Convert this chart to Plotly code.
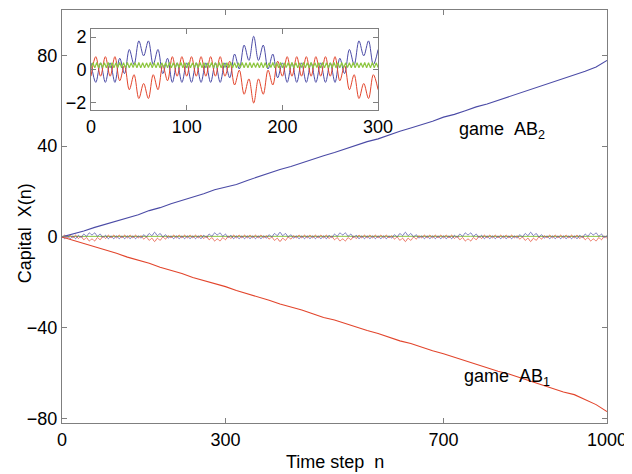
import plotly.graph_objects as go

# ---------------- data ----------------
trend_n = list(range(0, 1001, 20))
game_ab2 = [0.0, 1.2, 2.6, 4.2, 5.6, 7.0, 8.3, 9.8, 11.6, 12.9, 14.6, 16.0, 17.3, 19.0, 20.8,
            22.0, 23.1, 24.9, 26.6, 28.2, 29.7, 31.0, 32.6, 34.5, 35.8, 37.2, 38.9, 40.5, 42.0,
            43.2, 45.0, 46.6, 48.0, 49.4, 51.0, 52.8, 54.0, 55.6, 57.3, 58.6, 60.2, 61.8, 63.4,
            64.7, 66.5, 68.2, 69.8, 71.2, 73.0, 74.9, 77.8]
game_ab1 = [0.0, -1.4, -2.9, -4.3, -5.8, -7.2, -8.9, -10.3, -11.6, -13.4, -14.8, -16.1, -17.9,
            -19.2, -20.3, -21.9, -23.6, -25.0, -26.2, -27.9, -29.6, -30.8, -32.2, -33.9, -35.5,
            -36.6, -38.2, -39.9, -41.2, -42.6, -44.3, -45.8, -47.0, -48.7, -50.2, -51.5, -53.1,
            -54.6, -56.0, -57.6, -59.2, -60.4, -62.0, -63.7, -65.0, -66.6, -68.3, -69.5, -71.8,
            -73.9, -77.0]

band_n = list(range(0, 1001, 5))
band_blue = [
    0.42, -0.78, 0.42, -0.78, 0.42,
    -0.78, 0.70, -0.24, 1.24, 0.31, 1.77, 0.85, 1.77, 0.31, 1.24, -0.24, 0.70, -0.78,
    0.42, -0.78, 0.42, -0.78, 0.42, -0.78, 0.42, -0.78, 0.42, -0.78,
    0.42, -0.50, 0.96, 0.04, 1.51, 0.57, 2.05, 0.57, 1.51, 0.04, 0.96, -0.50, 0.42,
    -0.78, 0.42, -0.78, 0.42, -0.78, 0.42, -0.78, 0.42, -0.78, 0.42,
    -0.78, 0.70, -0.24, 1.24, 0.31, 1.77, 0.85, 1.77, 0.31, 1.24, -0.24, 0.70, -0.78,
    0.42, -0.78, 0.42, -0.78, 0.42, -0.78, 0.42, -0.78, 0.42, -0.78,
    0.42, -0.50, 0.96, 0.04, 1.51, 0.57, 2.05, 0.57, 1.51, 0.04, 0.96, -0.50, 0.42,
    -0.78, 0.42, -0.78, 0.42, -0.78, 0.42, -0.78, 0.42, -0.78, 0.42,
    -0.78, 0.70, -0.24, 1.24, 0.31, 1.77, 0.85, 1.77, 0.31, 1.24, -0.24, 0.70, -0.78,
    0.42, -0.78, 0.42, -0.78, 0.42, -0.78, 0.42, -0.78, 0.42, -0.78,
    0.42, -0.50, 0.96, 0.04, 1.51, 0.57, 2.05, 0.57, 1.51, 0.04, 0.96, -0.50, 0.42,
    -0.78, 0.42, -0.78, 0.42, -0.78, 0.42, -0.78, 0.42, -0.78, 0.42,
    -0.78, 0.70, -0.24, 1.24, 0.31, 1.77, 0.85, 1.77, 0.31, 1.24, -0.24, 0.70, -0.78,
    0.42, -0.78, 0.42, -0.78, 0.42, -0.78, 0.42, -0.78, 0.42, -0.78,
    0.42, -0.50, 0.96, 0.04, 1.51, 0.57, 2.05, 0.57, 1.51, 0.04, 0.96, -0.50, 0.42,
    -0.78, 0.42, -0.78, 0.42, -0.78, 0.42, -0.78, 0.42, -0.78, 0.42,
    -0.78, 0.70, -0.24, 1.24, 0.31, 1.77, 0.85, 1.77, 0.31, 1.24, -0.24, 0.70,
]
band_red = [
    -0.40, 0.80, -0.40, 0.80, -0.40,
    0.80, -0.68, 0.26, -1.23, -0.31, -1.77, -0.85, -1.77, -0.31, -1.23, 0.26, -0.68, 0.80,
    -0.40, 0.80, -0.40, 0.80, -0.40, 0.80, -0.40, 0.80, -0.40, 0.80,
    -0.40, 0.52, -0.94, -0.03, -1.51, -0.57, -2.05, -0.57, -1.51, -0.03, -0.94, 0.52, -0.40,
    0.80, -0.40, 0.80, -0.40, 0.80, -0.40, 0.80, -0.40, 0.80, -0.40,
    0.80, -0.68, 0.26, -1.23, -0.31, -1.77, -0.85, -1.77, -0.31, -1.23, 0.26, -0.68, 0.80,
    -0.40, 0.80, -0.40, 0.80, -0.40, 0.80, -0.40, 0.80, -0.40, 0.80,
    -0.40, 0.52, -0.94, -0.03, -1.51, -0.57, -2.05, -0.57, -1.51, -0.03, -0.94, 0.52, -0.40,
    0.80, -0.40, 0.80, -0.40, 0.80, -0.40, 0.80, -0.40, 0.80, -0.40,
    0.80, -0.68, 0.26, -1.23, -0.31, -1.77, -0.85, -1.77, -0.31, -1.23, 0.26, -0.68, 0.80,
    -0.40, 0.80, -0.40, 0.80, -0.40, 0.80, -0.40, 0.80, -0.40, 0.80,
    -0.40, 0.52, -0.94, -0.03, -1.51, -0.57, -2.05, -0.57, -1.51, -0.03, -0.94, 0.52, -0.40,
    0.80, -0.40, 0.80, -0.40, 0.80, -0.40, 0.80, -0.40, 0.80, -0.40,
    0.80, -0.68, 0.26, -1.23, -0.31, -1.77, -0.85, -1.77, -0.31, -1.23, 0.26, -0.68, 0.80,
    -0.40, 0.80, -0.40, 0.80, -0.40, 0.80, -0.40, 0.80, -0.40, 0.80,
    -0.40, 0.52, -0.94, -0.03, -1.51, -0.57, -2.05, -0.57, -1.51, -0.03, -0.94, 0.52, -0.40,
    0.80, -0.40, 0.80, -0.40, 0.80, -0.40, 0.80, -0.40, 0.80, -0.40,
    0.80, -0.68, 0.26, -1.23, -0.31, -1.77, -0.85, -1.77, -0.31, -1.23, 0.26, -0.68,
]

green_main_n = list(range(0, 1001, 50))
green_main = [0.25, 0.27, 0.24, 0.26, 0.25, 0.27, 0.24, 0.26, 0.25, 0.26, 0.24,
              0.27, 0.25, 0.26, 0.24, 0.27, 0.25, 0.26, 0.24, 0.26, 0.25]

inset_green_n = list(range(0, 301, 2))
inset_green = [
    0.12, 0.43, 0.11, 0.44, 0.12, 0.42, 0.13, 0.43, 0.12, 0.44, 0.11, 0.43, 0.12, 0.42, 0.13, 0.44,
    0.12, 0.43, 0.11, 0.44, 0.12, 0.42, 0.13, 0.43, 0.12, 0.44, 0.11, 0.43, 0.12, 0.42, 0.13, 0.44,
    0.12, 0.43, 0.11, 0.44, 0.12, 0.42, 0.13, 0.43, 0.12, 0.44, 0.11, 0.43, 0.12, 0.42, 0.13, 0.44,
    0.12, 0.43, 0.11, 0.44, 0.12, 0.42, 0.13, 0.43, 0.12, 0.44, 0.11, 0.43, 0.12, 0.42, 0.13, 0.44,
    0.12, 0.43, 0.11, 0.44, 0.12, 0.42, 0.13, 0.43, 0.12, 0.44, 0.11, 0.43, 0.12, 0.42, 0.13, 0.44,
    0.12, 0.43, 0.11, 0.44, 0.12, 0.42, 0.13, 0.43, 0.12, 0.44, 0.11, 0.43, 0.12, 0.42, 0.13, 0.44,
    0.12, 0.43, 0.11, 0.44, 0.12, 0.42, 0.13, 0.43, 0.12, 0.44, 0.11, 0.43, 0.12, 0.42, 0.13, 0.44,
    0.12, 0.43, 0.11, 0.44, 0.12, 0.42, 0.13, 0.43, 0.12, 0.44, 0.11, 0.43, 0.12, 0.42, 0.13, 0.44,
    0.12, 0.43, 0.11, 0.44, 0.12, 0.42, 0.13, 0.43, 0.12, 0.44, 0.11, 0.43, 0.12, 0.42, 0.13, 0.44,
    0.12, 0.43, 0.11, 0.44, 0.12, 0.42, 0.13,
]

x_ticks = [0, 300, 700, 1000]
y_ticks = [-80, -40, 0, 40, 80]
inset_x_ticks = [0, 100, 200, 300]
inset_y_ticks = [-2, 0, 2]

# ---------------- styling ----------------
BLUE = "#4b4ba6"
RED = "#e2452c"
GREEN = "#8dc63f"
AXC = "#7f7f7f"
FONT = "Liberation Sans, Arial, Helvetica, sans-serif"

inset_count = sum(1 for v in band_n if v <= 300)

fig = go.Figure()

# main band (tiny oscillations around zero)
fig.add_trace(go.Scatter(x=green_main_n, y=green_main, mode="lines",
                         line=dict(color=GREEN, width=1), xaxis="x", yaxis="y"))
fig.add_trace(go.Scatter(x=band_n, y=band_red, mode="lines", line_shape="spline",
                         line=dict(color=RED, width=0.7), xaxis="x", yaxis="y"))
fig.add_trace(go.Scatter(x=band_n, y=band_blue, mode="lines", line_shape="spline",
                         line=dict(color=BLUE, width=0.7), xaxis="x", yaxis="y"))
# main trends
fig.add_trace(go.Scatter(x=trend_n, y=game_ab2, mode="lines",
                         line=dict(color=BLUE, width=1.1), xaxis="x", yaxis="y"))
fig.add_trace(go.Scatter(x=trend_n, y=game_ab1, mode="lines",
                         line=dict(color=RED, width=1.1), xaxis="x", yaxis="y"))

# inset
fig.add_trace(go.Scatter(x=band_n[:inset_count], y=band_blue[:inset_count], mode="lines",
                         line_shape="spline", line=dict(color=BLUE, width=1),
                         xaxis="x2", yaxis="y2"))
fig.add_trace(go.Scatter(x=band_n[:inset_count], y=band_red[:inset_count], mode="lines",
                         line_shape="spline", line=dict(color=RED, width=1),
                         xaxis="x2", yaxis="y2"))
fig.add_trace(go.Scatter(x=inset_green_n, y=inset_green, mode="lines",
                         line=dict(color=GREEN, width=1.2), xaxis="x2", yaxis="y2"))

axis_common = dict(showline=True, mirror="ticks", linecolor=AXC, linewidth=1,
                   ticks="inside", ticklen=5, tickcolor=AXC, showgrid=False,
                   zeroline=False, tickfont=dict(family=FONT, size=18, color="black"))

# the page places the figure 8px in from the top-left corner, so the figure is
# sized to the remaining 624x466 area
fig.update_layout(
    width=624, height=466,
    margin=dict(l=54, r=25, t=0, b=51),
    paper_bgcolor="white", plot_bgcolor="white",
    showlegend=False,
    font=dict(family=FONT, size=18, color="black"),
    xaxis=dict(domain=[0, 1], range=[0, 1000], tickvals=x_ticks, anchor="y", **axis_common),
    yaxis=dict(domain=[0, 1], range=[-82, 100], tickvals=y_ticks, anchor="x", **axis_common),
    xaxis2=dict(domain=[0.0532, 0.580], range=[0, 300], tickvals=inset_x_ticks,
                anchor="y2", **axis_common),
    yaxis2=dict(domain=[0.757, 0.954], range=[-2.5, 2.5], tickvals=inset_y_ticks,
                anchor="x2", **axis_common),
    annotations=[
        dict(text="game\u00a0\u00a0AB<sub>2</sub>", x=725, y=47, xref="x", yref="y",
             xanchor="left", yanchor="middle", showarrow=False,
             font=dict(family=FONT, size=18, color="black")),
        dict(text="game\u00a0\u00a0AB<sub>1</sub>", x=734, y=-62, xref="x", yref="y",
             xanchor="left", yanchor="middle", showarrow=False,
             font=dict(family=FONT, size=18, color="black")),
        dict(text="Capital\u00a0\u00a0X(n)", x=-0.068, y=0.459, xref="paper", yref="paper",
             textangle=-90, xanchor="center", yanchor="middle", showarrow=False,
             font=dict(family=FONT, size=18, color="black")),
        dict(text="Time step\u00a0\u00a0n", x=0.5, y=-0.094, xref="paper", yref="paper",
             xanchor="center", yanchor="middle", showarrow=False,
             font=dict(family=FONT, size=18, color="black")),
    ],
)

fig.write_html("out.html")
